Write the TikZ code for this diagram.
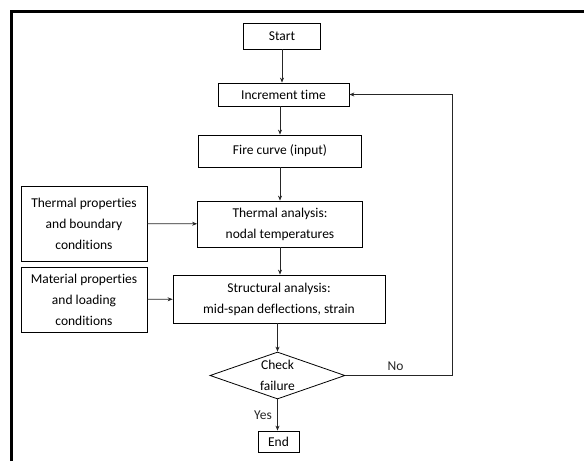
\documentclass[tikz,border=0pt]{standalone}
\usepackage{fontspec}
\setmainfont[Ligatures=NoCommon]{Carlito}
\usetikzlibrary{shapes.geometric,arrows.meta}

\begin{document}
\begin{tikzpicture}[x=1pt,y=-1pt,font=\fontsize{13.5}{21}\selectfont]
  \def\W{584}            % picture width
  \def\H{461}            % picture height
  \def\xm{280}           % main column
  \def\xr{452}           % x position return line

  \tikzstyle{box}=[draw,line width=0.8pt,inner sep=2pt,align=center]
  \tikzstyle{decision}=[draw,line width=0.8pt,diamond,inner sep=0pt,minimum width=135,minimum height=47]
  \tikzstyle{flow}=[-{Stealth[length=5pt,width=4pt]},line width=0.7pt,black!85]

  \useasboundingbox (0,0) rectangle (\W,\H);
  \draw[line width=3pt] (11,\H) -- (11,11) -- (\W,11);

  % MAIN COLUMN
  \node[box,minimum width=77,minimum height=26] (start) at (282,36) {Start};
  \node[box,minimum width=131,minimum height=23] (incr) at (283.5,94.5) {Increment time};
  \node[box,minimum width=163,minimum height=32] (fire) at (\xm,151) {Fire curve (input)};
  \node[box,minimum width=165,minimum height=46] (therm) at (\xm,224)
    {Thermal analysis:\\nodal temperatures};
  \node[box,minimum width=212,minimum height=48] (struct) at (279,299)
    {Structural analysis:\\mid-span deflections, strain};
  \node[decision] (check) at (277.5,375.5) {};
  \node[align=center] (checktxt) at (check) {Check\\failure};
  \node[box,minimum width=41,minimum height=21,inner sep=1pt] (stop) at (278.5,441.5) {End};

  % INPUT BOXES
  \node[box,minimum width=126,minimum height=75] (thprop) at (84,223.5)
    {Thermal properties\\and boundary\\conditions};
  \node[box,minimum width=126,minimum height=65] (matprop) at (84,299.5)
    {Material properties\\and loading\\conditions};

  % CONNECTORS
  \draw[flow] (start) -- (start |- incr.north);
  \draw[flow] (fire.north |- incr.south) -- (fire);
  \draw[flow] (fire) -- (therm);
  \draw[flow] (therm) -- (therm |- struct.north);
  \draw[flow] (check.north |- struct.south) -- (check);
  \draw[flow] (check) -- (stop.north -| check) node[midway,left=2pt] {Yes};
  \draw[flow] (thprop) -- (therm);
  \draw[flow] (matprop) -- (struct);
  \draw[flow] (check.east) -- (\xr,375.5) node[pos=0.47,above=1pt] {No}
    |- (incr.east);
\end{tikzpicture}
\end{document}
